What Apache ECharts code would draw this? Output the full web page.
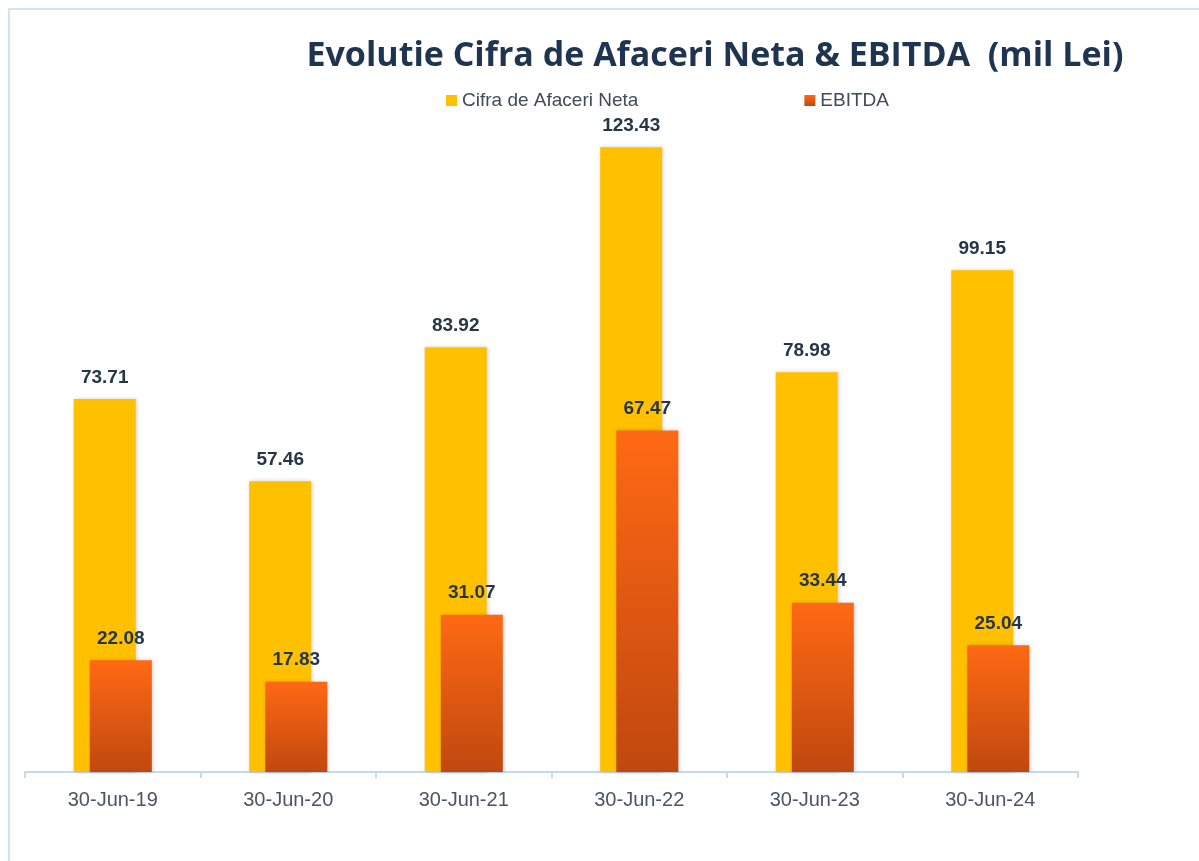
<!DOCTYPE html>
<html>
<head>
<meta charset="utf-8">
<script src="https://cdn.jsdelivr.net/npm/echarts@6/dist/echarts.min.js"></script>
<style>
  html, body { margin: 0; padding: 0; background: #fff; }
  #frame {
    position: absolute; left: 8px; top: 8px; width: 1300px; height: 900px;
    border-top: 2px solid #d3e2f4; border-left: 2px solid #d3e2f4;
  }
  #testContainer { position: absolute; left: 0; top: 0; width: 1199px; height: 861px; }
</style>
</head>
<body>
<div id="frame"></div>
<div id="testContainer"></div>
<script>
// categorii si valori (mil Lei)
var categories = ['30-Jun-19', '30-Jun-20', '30-Jun-21', '30-Jun-22', '30-Jun-23', '30-Jun-24'];
var cifraAfaceri = [73.71, 57.46, 83.92, 123.43, 78.98, 99.15];
var ebitda = [22.08, 17.83, 31.07, 67.47, 33.44, 25.04];

var testChart = echarts.init(document.getElementById('testContainer'));

var labelStyle = {
    show: true,
    position: 'top',
    distance: 12,
    color: '#253649',
    fontSize: 19,
    fontWeight: 'bold',
    fontFamily: 'Liberation Sans, Arial, sans-serif',
    formatter: function (p) { return p.value.toFixed(2); }
};

var option = {
    backgroundColor: 'transparent',
    animation: false,
    title: {
        text: 'Evolutie Cifra de Afaceri Neta & EBITDA  (mil Lei)',
        left: 710,
        textAlign: 'center',
        top: 34,
        textStyle: {
            color: '#1f3450',
            fontSize: 34,
            fontWeight: 'bold',
            fontFamily: 'Open Sans, sans-serif'
        }
    },
    legend: {
        top: 86,
        left: 441,
        itemWidth: 11,
        itemHeight: 11,
        itemGap: 166,
        icon: 'rect',
        textStyle: {
            color: '#3f4a5a',
            fontSize: 19,
            fontFamily: 'Liberation Sans, Arial, sans-serif'
        },
        data: ['Cifra de Afaceri Neta', 'EBITDA']
    },
    grid: {
        left: 25,
        right: 121,
        top: 114,
        bottom: 89,
        containLabel: false
    },
    xAxis: {
        type: 'category',
        data: categories,
        axisLine: { lineStyle: { color: '#c5d9f0', width: 2 } },
        axisTick: { show: true, alignWithLabel: false, length: 6, lineStyle: { color: '#c5d9f0', width: 2 } },
        axisLabel: {
            color: '#4a5566',
            fontSize: 20,
            margin: 18,
            fontFamily: 'Liberation Sans, Arial, sans-serif'
        }
    },
    yAxis: {
        type: 'value',
        min: 0,
        max: 130,
        show: false,
        splitLine: { show: false }
    },
    series: [
        {
            name: 'Cifra de Afaceri Neta',
            type: 'bar',
            data: cifraAfaceri,
            barWidth: 62,
            barGap: '-74%',
            itemStyle: {
                color: '#ffc000',
                shadowColor: 'rgba(0,0,0,0.18)',
                shadowBlur: 4,
                shadowOffsetX: 1
            },
            label: labelStyle
        },
        {
            name: 'EBITDA',
            type: 'bar',
            data: ebitda,
            barWidth: 62,
            itemStyle: {
                color: new echarts.graphic.LinearGradient(0, 0, 0, 1, [
                    { offset: 0, color: '#ff6914' },
                    { offset: 1, color: '#c0480f' }
                ]),
                shadowColor: 'rgba(0,0,0,0.18)',
                shadowBlur: 4,
                shadowOffsetX: 1
            },
            label: labelStyle
        }
    ]
};

testChart.setOption(option, true);
window.onresize = function () { testChart.resize(); };
</script>
</body>
</html>
